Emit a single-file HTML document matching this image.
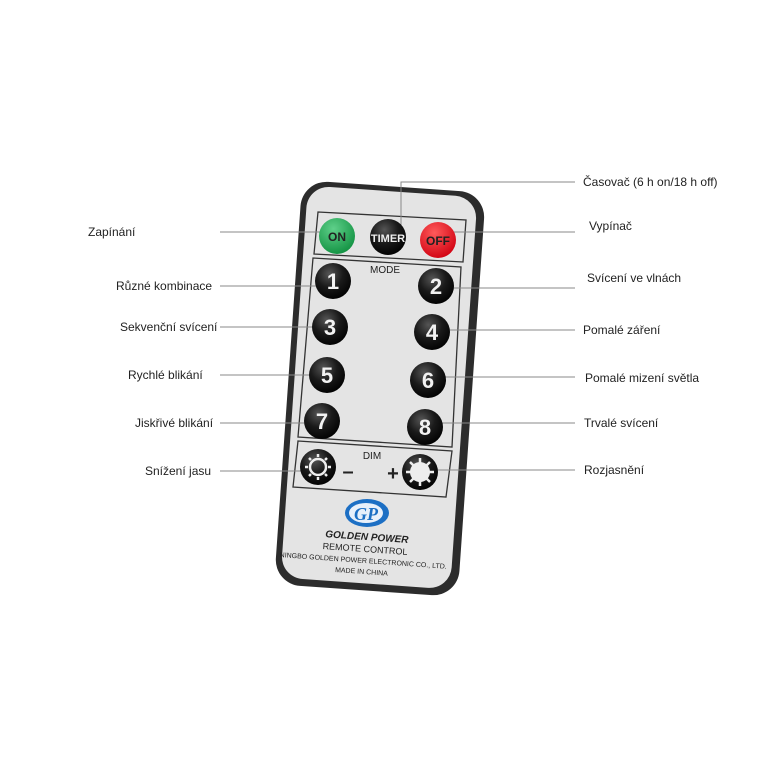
<!DOCTYPE html>
<html><head><meta charset="utf-8"><style>
html,body{margin:0;padding:0;background:#fff;width:768px;height:768px;overflow:hidden}
svg{display:block}
.l{font-family:"Liberation Sans",sans-serif;font-size:12px;fill:#222}
.n{font-family:"Liberation Sans",sans-serif;font-weight:bold;font-size:22px;fill:#f2f2f2}
.s{font-family:"Liberation Sans",sans-serif;fill:#222}
</style></head><body>
<svg width="768" height="768" viewBox="0 0 768 768" xmlns="http://www.w3.org/2000/svg">
<defs>
<radialGradient id="bk" cx="0.4" cy="0.3" r="0.75"><stop offset="0" stop-color="#555"/><stop offset="0.5" stop-color="#1a1a1a"/><stop offset="1" stop-color="#000"/></radialGradient>
<radialGradient id="gr" cx="0.4" cy="0.3" r="0.75"><stop offset="0" stop-color="#5fd08a"/><stop offset="1" stop-color="#109040"/></radialGradient>
<radialGradient id="rd" cx="0.4" cy="0.3" r="0.75"><stop offset="0" stop-color="#ff5a5a"/><stop offset="1" stop-color="#d00010"/></radialGradient>
</defs>
<g transform="rotate(4 380 388)">
<rect x="288" y="186" width="184" height="405" rx="26" fill="#2c2c2c"/>
<rect x="294" y="191" width="170" height="393" rx="22" fill="#e4e4e4"/>
</g>
<g fill="none" stroke="#333" stroke-width="1.3">
<polygon points="318,212 466,220 463,262 314,254"/>
<polygon points="313,258 461,267 452,447 298,437"/>
<polygon points="298,441 452,451 446,497 293,487"/>
</g>
<!-- connectors -->
<g stroke="#888" stroke-width="1">
<line x1="220" y1="232" x2="330" y2="232"/>
<polyline fill="none" points="401,228 401,182 575,182"/>
<line x1="440" y1="232" x2="575" y2="232"/>
<line x1="220" y1="286" x2="330" y2="286"/>
<line x1="440" y1="288" x2="575" y2="288"/>
<line x1="220" y1="327" x2="330" y2="327"/>
<line x1="435" y1="330" x2="575" y2="330"/>
<line x1="220" y1="375" x2="325" y2="375"/>
<line x1="430" y1="377" x2="575" y2="377"/>
<line x1="220" y1="423" x2="320" y2="423"/>
<line x1="428" y1="423" x2="575" y2="423"/>
<line x1="220" y1="471" x2="318" y2="471"/>
<line x1="420" y1="470" x2="575" y2="470"/>
</g>
<!-- buttons -->
<circle cx="337" cy="236" r="18" fill="url(#gr)"/><text x="337" y="241" text-anchor="middle" class="s" font-size="12" font-weight="bold" fill="#111">ON</text>
<circle cx="388" cy="237" r="18" fill="url(#bk)"/><text x="388" y="242" text-anchor="middle" class="s" font-size="11" font-weight="bold" style="fill:#eee">TIMER</text>
<circle cx="438" cy="240" r="18" fill="url(#rd)"/><text x="438" y="245" text-anchor="middle" class="s" font-size="12" font-weight="bold" fill="#222">OFF</text>
<text x="385" y="273" text-anchor="middle" class="s" font-size="10">MODE</text>
<g>
<circle cx="333" cy="281" r="18" fill="url(#bk)"/><text x="333" y="289" text-anchor="middle" class="n">1</text>
<circle cx="436" cy="286" r="18" fill="url(#bk)"/><text x="436" y="294" text-anchor="middle" class="n">2</text>
<circle cx="330" cy="327" r="18" fill="url(#bk)"/><text x="330" y="335" text-anchor="middle" class="n">3</text>
<circle cx="432" cy="332" r="18" fill="url(#bk)"/><text x="432" y="340" text-anchor="middle" class="n">4</text>
<circle cx="327" cy="375" r="18" fill="url(#bk)"/><text x="327" y="383" text-anchor="middle" class="n">5</text>
<circle cx="428" cy="380" r="18" fill="url(#bk)"/><text x="428" y="388" text-anchor="middle" class="n">6</text>
<circle cx="322" cy="421" r="18" fill="url(#bk)"/><text x="322" y="429" text-anchor="middle" class="n">7</text>
<circle cx="425" cy="427" r="18" fill="url(#bk)"/><text x="425" y="435" text-anchor="middle" class="n">8</text>
</g>
<text x="372" y="459" text-anchor="middle" class="s" font-size="10">DIM</text>
<circle cx="318" cy="467" r="18" fill="url(#bk)"/>
<circle cx="318" cy="467" r="8" fill="none" stroke="#eee" stroke-width="2.5"/>
<g stroke="#eee" stroke-width="2.5"><line x1="318" y1="454" x2="318" y2="457"/><line x1="318" y1="477" x2="318" y2="480"/><line x1="305" y1="467" x2="308" y2="467"/><line x1="328" y1="467" x2="331" y2="467"/><line x1="309" y1="458" x2="311" y2="460"/><line x1="325" y1="474" x2="327" y2="476"/><line x1="327" y1="458" x2="325" y2="460"/><line x1="311" y1="474" x2="309" y2="476"/></g>
<text x="348" y="478" text-anchor="middle" class="s" font-size="20" font-weight="bold">–</text>
<text x="393" y="480" text-anchor="middle" class="s" font-size="20" font-weight="bold">+</text>
<circle cx="420" cy="472" r="18" fill="url(#bk)"/>
<circle cx="420" cy="472" r="10" fill="#eee"/>
<g stroke="#eee" stroke-width="2.5"><line x1="420" y1="458" x2="420" y2="486"/><line x1="406" y1="472" x2="434" y2="472"/><line x1="410" y1="462" x2="430" y2="482"/><line x1="430" y1="462" x2="410" y2="482"/></g>
<!-- logo -->
<ellipse cx="367" cy="513" rx="22" ry="14" fill="#1c6fc4"/>
<ellipse cx="366" cy="513" rx="17" ry="10" fill="#e8f0fa"/>
<text x="366" y="520" text-anchor="middle" font-family="Liberation Serif,serif" font-style="italic" font-weight="bold" font-size="18" fill="#1c6fc4">GP</text>
<g class="s" text-anchor="middle" transform="rotate(4 365 550)">
<text x="366" y="540" font-size="10" font-weight="bold" font-style="italic">GOLDEN POWER</text>
<text x="365" y="552" font-size="9">REMOTE CONTROL</text>
<text x="364" y="563" font-size="7">NINGBO GOLDEN POWER ELECTRONIC CO., LTD.</text>
<text x="363" y="574" font-size="7">MADE IN CHINA</text>
</g>
<!-- labels -->
<g class="l">
<text x="88" y="236">Zapínání</text>
<text x="116" y="290">Různé kombinace</text>
<text x="120" y="331">Sekvenční svícení</text>
<text x="128" y="379">Rychlé blikání</text>
<text x="135" y="427">Jiskřivé blikání</text>
<text x="145" y="475">Snížení jasu</text>
<text x="583" y="186">Časovač (6 h on/18 h off)</text>
<text x="589" y="230">Vypínač</text>
<text x="587" y="282">Svícení ve vlnách</text>
<text x="583" y="334">Pomalé záření</text>
<text x="585" y="382">Pomalé mizení světla</text>
<text x="584" y="427">Trvalé svícení</text>
<text x="584" y="474">Rozjasnění</text>
</g>
</svg>
</body></html>
